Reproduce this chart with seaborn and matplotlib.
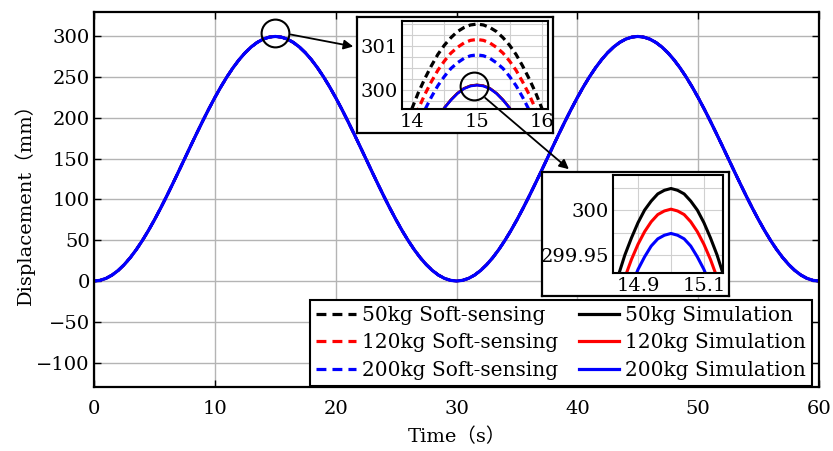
import matplotlib
matplotlib.use("Agg")
import matplotlib.pyplot as plt
import seaborn as sns
from matplotlib.patches import FancyArrowPatch
from matplotlib.ticker import FixedLocator

# ---------------- data ----------------
time_s = [i * 0.5 for i in range(121)]
displacement_mm = [
    0.00, 0.82, 3.28, 7.34, 12.97, 20.10, 28.65, 38.53, 49.63, 61.83,
    75.00, 88.99, 103.65, 118.81, 134.32, 150.00, 165.68, 181.19, 196.35, 211.01,
    225.00, 238.17, 250.37, 261.47, 271.35, 279.90, 287.03, 292.66, 296.72, 299.18,
    300.00, 299.18, 296.72, 292.66, 287.03, 279.90, 271.35, 261.47, 250.37, 238.17,
    225.00, 211.01, 196.35, 181.19, 165.68, 150.00, 134.32, 118.81, 103.65, 88.99,
    75.00, 61.83, 49.63, 38.53, 28.65, 20.10, 12.97, 7.34, 3.28, 0.82,
    0.00, 0.82, 3.28, 7.34, 12.97, 20.10, 28.65, 38.53, 49.63, 61.83,
    75.00, 88.99, 103.65, 118.81, 134.32, 150.00, 165.68, 181.19, 196.35, 211.01,
    225.00, 238.17, 250.37, 261.47, 271.35, 279.90, 287.03, 292.66, 296.72, 299.18,
    300.00, 299.18, 296.72, 292.66, 287.03, 279.90, 271.35, 261.47, 250.37, 238.17,
    225.00, 211.01, 196.35, 181.19, 165.68, 150.00, 134.32, 118.81, 103.65, 88.99,
    75.00, 61.83, 49.63, 38.53, 28.65, 20.10, 12.97, 7.34, 3.28, 0.82, 0.00]

# zoom 1 (14-16 s)
zoom1_t = [14.0, 14.1, 14.2, 14.3, 14.4, 14.5, 14.6, 14.7, 14.8, 14.9, 15.0,
           15.1, 15.2, 15.3, 15.4, 15.5, 15.6, 15.7, 15.8, 15.9, 16.0]
zoom1_soft_50 = [299.57, 299.94, 300.26, 300.55, 300.81, 301.02, 301.19, 301.33, 301.42, 301.48, 301.50,
                 301.48, 301.42, 301.33, 301.19, 301.02, 300.81, 300.55, 300.26, 299.94, 299.57]
zoom1_soft_120 = [299.20, 299.57, 299.90, 300.19, 300.45, 300.66, 300.84, 300.97, 301.07, 301.13, 301.15,
                  301.13, 301.07, 300.97, 300.84, 300.66, 300.45, 300.19, 299.90, 299.57, 299.20]
zoom1_soft_200 = [298.85, 299.22, 299.55, 299.84, 300.10, 300.31, 300.49, 300.62, 300.72, 300.78, 300.80,
                  300.78, 300.72, 300.62, 300.49, 300.31, 300.10, 299.84, 299.55, 299.22, 298.85]
zoom1_sim_t = [14.4, 14.5, 14.6, 14.7, 14.8, 14.9, 15.0, 15.1, 15.2, 15.3, 15.4, 15.5, 15.6]
zoom1_sim_50 = [299.36, 299.60, 299.78, 299.93, 300.04, 300.10, 300.12, 300.10, 300.04, 299.93, 299.78, 299.60, 299.36]
zoom1_sim_120 = [299.355, 299.595, 299.775, 299.925, 300.035, 300.095, 300.115, 300.095, 300.035, 299.925, 299.775, 299.595, 299.355]
zoom1_sim_200 = [299.35, 299.59, 299.77, 299.92, 300.03, 300.09, 300.11, 300.09, 300.03, 299.92, 299.77, 299.59, 299.35]

# zoom 2 (14.82-15.16 s)
zoom2_t = [14.82, 14.84, 14.86, 14.88, 14.90, 14.92, 14.94, 14.96, 14.98, 15.00,
           15.02, 15.04, 15.06, 15.08, 15.10, 15.12, 15.14, 15.16]
zoom2_sim_50 = [299.901, 299.927, 299.950, 299.969, 299.986, 300.000, 300.010, 300.018, 300.022, 300.024,
                300.022, 300.018, 300.010, 300.000, 299.986, 299.969, 299.950, 299.927]
zoom2_sim_120 = [299.875, 299.901, 299.925, 299.945, 299.962, 299.976, 299.987, 299.995, 299.999, 300.001,
                 299.999, 299.995, 299.987, 299.976, 299.962, 299.945, 299.925, 299.901]
zoom2_sim_200 = [299.844, 299.872, 299.896, 299.916, 299.934, 299.948, 299.960, 299.968, 299.972, 299.974,
                 299.972, 299.968, 299.960, 299.948, 299.934, 299.916, 299.896, 299.872]

loads = ["50kg", "120kg", "200kg"]
colors = ["black", "red", "blue"]
x_ticks = [0, 10, 20, 30, 40, 50, 60]
y_ticks = [-100, -50, 0, 50, 100, 150, 200, 250, 300]

# ---------------- style ----------------
FONT = ["DejaVu Serif", "Noto Sans CJK SC"]
plt.rcParams["font.family"] = FONT
plt.rcParams["mathtext.fontset"] = "dejavuserif"
FS = 14

W, H = 833, 451
fig = plt.figure(figsize=(W / 100, H / 100), dpi=100)


def fx(px):
    return px / W


def fy(py):
    return 1 - py / H


# main axes
ax = fig.add_axes([fx(94), fy(387), fx(819) - fx(94), fy(12) - fy(387)])
ax.set_zorder(0)
LW = 2.3
handles = {}
for i, (load, c) in enumerate(zip(loads, colors)):
    under = 1.9
    top = LW if i == len(loads) - 1 else under
    sns.lineplot(x=time_s, y=displacement_mm, ax=ax, color=c, lw=under, linestyle=(0, (3.1, 1.9)),
                 sort=False)
    handles[("soft", load)] = ax.lines[-1]
    sns.lineplot(x=time_s, y=displacement_mm, ax=ax, color=c, lw=top, linestyle="-", sort=False)
    handles[("sim", load)] = ax.lines[-1]

ax.set_xlim(0, 60)
ax.set_ylim(-130, 330)
ax.set_xticks(x_ticks)
ax.set_yticks(y_ticks)
ax.set_yticklabels([("\u2212" + str(-v)) if v < 0 else str(v) for v in y_ticks])
ax.grid(True, color="#b4b4b4", lw=1.0)
ax.set_axisbelow(True)
ax.tick_params(direction="in", length=5, width=1.0, labelsize=FS, top=True, right=True)
ax.tick_params(axis="y", pad=3)
ax.tick_params(axis="x", pad=9)
for s in ax.spines.values():
    s.set_linewidth(1.6)
    s.set_color("black")
ax.set_xlabel("Time（s）", fontsize=FS, labelpad=7)
ax.set_ylabel("Displacement（mm）", fontsize=FS, labelpad=1)

leg_handles = [handles[("soft", l)] for l in loads] + [handles[("sim", l)] for l in loads]
leg_labels = [f"{l} Soft-sensing" for l in loads] + [f"{l} Simulation" for l in loads]
leg = ax.legend(leg_handles, leg_labels, ncol=2, loc="lower right", bbox_to_anchor=(0.990, 0.003),
                borderaxespad=0, prop={"family": FONT, "size": 14.5}, frameon=True, fancybox=False,
                framealpha=1, edgecolor="black", handlelength=2.0, handletextpad=0.3,
                columnspacing=1.0, labelspacing=0.42, borderpad=0.3)
leg.get_frame().set_linewidth(1.5)
leg.set_zorder(6)
for h in leg.legend_handles:
    h.set_linewidth(LW)

# circle on main curve
ax.plot([15], [304], marker="o", ms=20, mfc="none", mec="black", mew=1.5, zorder=7, clip_on=False)

# ---------------- inset 1 ----------------
box1 = fig.add_axes([fx(357), fy(133), fx(553) - fx(357), fy(17) - fy(133)])
box1.set_zorder(2)
box1.set_xticks([]); box1.set_yticks([])
for s in box1.spines.values():
    s.set_linewidth(1.6)

ax1 = fig.add_axes([fx(402), fy(109), fx(548) - fx(402), fy(21) - fy(109)])
ax1.set_zorder(3)
for series, c in zip([zoom1_soft_50, zoom1_soft_120, zoom1_soft_200], colors):
    sns.lineplot(x=zoom1_t, y=series, ax=ax1, color=c, lw=LW, linestyle=(0, (2.2, 1.4)), sort=False)
for series, c in zip([zoom1_sim_50, zoom1_sim_120, zoom1_sim_200], colors):
    sns.lineplot(x=zoom1_sim_t, y=series, ax=ax1, color=c, lw=1.8, linestyle="-", sort=False)
ax1.set_xlim(13.85, 16.09)
ax1.set_ylim(299.57, 301.57)
ax1.set_xticks([14, 15, 16])
ax1.set_yticks([300, 301])
ax1.xaxis.set_minor_locator(FixedLocator([14.5, 15.5]))
ax1.yaxis.set_minor_locator(FixedLocator([299.75, 300.25, 300.5, 300.75, 301.25, 301.5]))
ax1.grid(True, which="both", color="#d0d0d0", lw=0.8)
ax1.set_axisbelow(True)
ax1.tick_params(which="both", length=0, labelsize=FS, pad=3)
for s in ax1.spines.values():
    s.set_linewidth(1.5)
ax1.plot([14.95], [300.1], marker="o", ms=20, mfc="none", mec="black", mew=1.5, zorder=7, clip_on=False)

# ---------------- inset 2 ----------------
box2 = fig.add_axes([fx(542), fy(296), fx(729) - fx(542), fy(172) - fy(296)])
box2.set_zorder(2)
box2.set_xticks([]); box2.set_yticks([])
for s in box2.spines.values():
    s.set_linewidth(1.6)

ax2 = fig.add_axes([fx(613), fy(273), fx(723) - fx(613), fy(175) - fy(273)])
ax2.set_zorder(3)
for series, c in zip([zoom2_sim_50, zoom2_sim_120, zoom2_sim_200], colors):
    sns.lineplot(x=zoom2_t, y=series, ax=ax2, color=c, lw=2.2, linestyle="-", sort=False)
ax2.set_xlim(14.824, 15.158)
ax2.set_ylim(299.93, 300.039)
ax2.set_xticks([14.9, 15.1])
ax2.set_xticklabels(["14.9", "15.1"])
ax2.set_yticks([299.95, 300.0])
ax2.set_yticklabels(["299.95", "300"])
ax2.xaxis.set_minor_locator(FixedLocator([15.0]))
ax2.yaxis.set_minor_locator(FixedLocator([299.975, 300.025]))
ax2.grid(True, which="both", color="#d0d0d0", lw=0.8)
ax2.set_axisbelow(True)
ax2.tick_params(which="both", length=0, labelsize=FS, pad=3)
for s in ax2.spines.values():
    s.set_linewidth(1.5)

# ---------------- arrows ----------------
arr1 = FancyArrowPatch(posA=(fx(288), fy(34)), posB=(fx(356), fy(47)), transform=fig.transFigure,
                       arrowstyle="-|>", mutation_scale=14, lw=1.3, color="black", zorder=10)
fig.add_artist(arr1)
arr2 = FancyArrowPatch(posA=(fx(483), fy(96)), posB=(fx(571), fy(171)), transform=fig.transFigure,
                       arrowstyle="-|>", mutation_scale=14, lw=1.3, color="black", zorder=10)
fig.add_artist(arr2)

fig.savefig("out.png", dpi=100)
